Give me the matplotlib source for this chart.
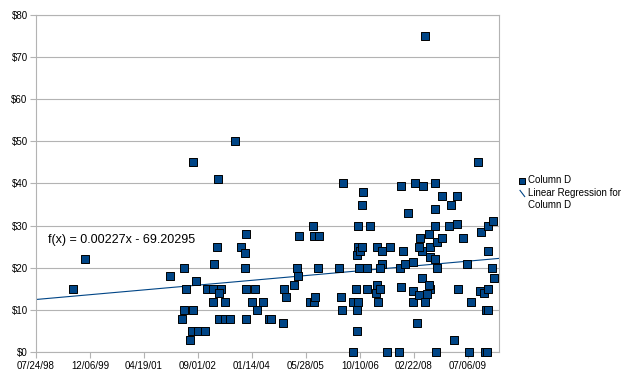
import datetime as dt
import matplotlib
matplotlib.use("Agg")
import matplotlib.pyplot as plt
from matplotlib.lines import Line2D
from matplotlib.legend_handler import HandlerBase
from matplotlib.ticker import FuncFormatter, MultipleLocator

plt.rcParams['font.family'] = ['Liberation Sans', 'DejaVu Sans']

# dates as spreadsheet serial numbers (days since 1899-12-30), prices in $
dates = [36345, 36454, 37241, 37373, 37386, 37479, 37366, 37458, 37349, 37426,
         37447, 37503, 37565, 37456, 37681, 37843, 37676, 37648, 37588, 37642,
         37710, 37694, 37636, 37750, 37699, 37750, 37796, 37942, 37895, 37935,
         37935, 37944, 38030, 37944, 37997, 38046, 38105, 38157, 38180, 38284,
         38296, 38312, 38386, 38414, 38423, 38438, 38562, 38577, 38618, 38608,
         38540, 38579, 38583, 38803, 38824, 38833, 38847, 38963, 38932, 38984,
         38969, 38969, 38935, 38993, 38981, 38969, 39000, 39023, 38979, 39016,
         39028, 39093, 39155, 39201, 39275, 39395, 39062, 39201, 39190, 39370,
         39417, 39493, 39062, 39157, 39148, 39185, 39164, 39380, 39491, 39493,
         39543, 39571, 39606, 39648, 39642, 39617, 39525, 39255, 39366, 39377,
         39509, 39586, 39442, 39560, 39637, 39571, 39549, 39653, 39648, 39699,
         39694, 39699, 39602, 40090, 39756, 39847, 39895, 39821, 39895, 39713,
         39756, 39951, 39699, 39713, 39988, 39907, 40028, 39870, 39704, 40012,
         40162, 40180, 40120, 40188, 40234, 40182, 40219, 40241, 40111, 40148,
         40182, 40171, 40190]
prices = [15, 22, 18, 20, 15, 17, 10, 10, 8, 3,
          5, 5, 5, 45, 41, 50, 25, 21, 15, 15,
          15, 14, 12, 12, 8, 8, 8, 28, 25, 23.5,
          20, 15, 15, 8, 12, 10, 12, 8, 8, 7,
          15, 13, 16, 20, 18, 27.5, 30, 27.5, 27.5, 20,
          12, 12, 13, 20, 13, 10, 40, 15, 12, 12,
          10, 5, 0, 20, 25, 23, 24, 25, 30, 35,
          38, 30, 25, 24, 25, 24, 20, 21, 20, 20,
          21, 21.5, 15, 16, 14, 15, 12, 15.5, 14.5, 12,
          13.5, 17.5, 12, 15, 16, 13.8, 7, 0, 0, 39.5,
          40, 39.5, 33, 27, 28, 24, 25, 25, 22.5, 30,
          34, 40, 75, 45, 37, 35, 37, 30, 30.5, 26.2,
          27, 27, 22, 20, 21, 15, 12, 3, 0, 0,
          0, 0, 28.5, 30, 31, 24, 20, 17.5, 14.5, 14,
          15, 10, 10]

# trend line as printed on the chart
slope = 0.00227
intercept = -69.20295
x_start, x_end = 36000, 40287
tick_step = 500

blue = '#004586'
grey = '#b3b3b3'


def serial_to_label(v, pos=None):
    d = dt.datetime(1899, 12, 30) + dt.timedelta(days=float(v))
    return d.strftime('%m/%d/%y')


class DiagonalHandler(HandlerBase):
    # short "\" stroke next to the first text line, like the office chart
    def create_artists(self, legend, orig_handle, xdescent, ydescent,
                       width, height, fontsize, trans):
        x0 = -xdescent + width * 0.1
        x1 = -xdescent + width * 0.9
        up = fontsize * 0.6
        line = Line2D([x0, x1],
                      [height * 0.95 - ydescent + up, -ydescent + height * 0.05 + up],
                      color=blue, lw=0.8, transform=trans)
        return [line]


fig = plt.figure(figsize=(6.35, 3.85), dpi=100)
ax = fig.add_axes([0.0567, 0.0849, 0.729, 0.877])

ax.set_xlim(x_start, x_end)
ax.set_ylim(0, 80)

ax.yaxis.set_major_locator(MultipleLocator(10))
ax.xaxis.set_major_locator(MultipleLocator(tick_step))
ax.xaxis.set_major_formatter(FuncFormatter(serial_to_label))
ax.yaxis.set_major_formatter(FuncFormatter(lambda v, p: '${:.0f}'.format(v)))

ax.grid(axis='y', color=grey, lw=0.8)
ax.set_axisbelow(True)
for s in ax.spines.values():
    s.set_color(grey)
    s.set_linewidth(0.8)
ax.tick_params(axis='both', direction='out', length=4, width=0.8,
               color=grey, labelsize=7, pad=2)

reg_line, = ax.plot([x_start, x_end],
                    [slope * x_start + intercept, slope * x_end + intercept],
                    color=blue, lw=0.8, zorder=2)
pts = ax.scatter(dates, prices, marker='s', s=36, facecolor=blue,
                 edgecolor='black', linewidths=0.7, zorder=3, clip_on=False)

ax.text(36110, 26.5, 'f(x) = 0.00227x - 69.20295', fontsize=9,
        ha='left', va='center')

leg = fig.legend([pts, reg_line], ['Column D', 'Linear Regression for\nColumn D'],
                 handler_map={reg_line: DiagonalHandler()},
                 loc='center left', bbox_to_anchor=(0.818, 0.5),
                 borderaxespad=0, borderpad=0,
                 frameon=False, fontsize=7, handlelength=0.6,
                 handletextpad=0.25, labelspacing=0.25, scatterpoints=1,
                 markerscale=0.7)

fig.savefig('out.png', dpi=100)
